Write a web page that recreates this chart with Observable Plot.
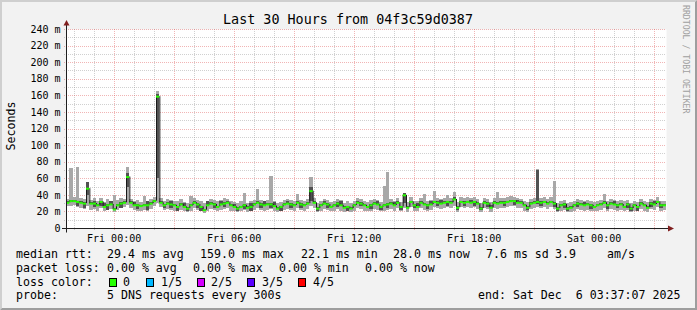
<!DOCTYPE html>
<html><head><meta charset="utf-8">
<script src="https://cdn.jsdelivr.net/npm/d3@7"></script>
<script src="https://cdn.jsdelivr.net/npm/@observablehq/plot@0.6"></script>
<style>
body{margin:0;background:#fff}
#c{position:relative;width:697px;height:310px;background:#f2f2f2;overflow:hidden}
#c svg{position:absolute;left:0;top:0}
#c text{white-space:pre}
</style></head><body><div id="c"></div>
<script>
// ---- data (ms), 10-minute steps starting Thu 21:37:07 ----
const medianMs = [
31,33,33,32,31,30,48,30,30,28,
32,26,28,29,23,28,30,31,62,31,
28,28,27,28,28,30,33,159,31,28,
30,29,28,26,29,26,24,28,31,29,
26,22.1,28,30,29,26,29,30,31,28,
26,24,26,28,25,26,29,31,29,28,
29,29,27,24,26,29,30,29,28,31,
29,28,30,45,31,24,28,30,29,26,
28,30,28,25,26,24,28,31,30,28,
26,28,30,29,26,28,29,30,28,31,
26,40,25,32,28,26,31,29,28,29,
32,31,30,31,32,31,35,25,32,31,
32,31,32,30,24,31,30,25,31,30,
31,31,32,33,33,31,31,28,25,30,
31,32,31,32,30,32,30,24,28,29,
24,25,28,30,29,28,29,28,26,28,
29,31,28,30,29,28,29,26,29,24,
28,26,30,28,25,30,29,32,28,28];
const pingMax = [
35,72,37,74,36,35,56,34,36,33,
36,31,35,33,40,34,36,35,74,35,
33,34,31,38,33,35,37,165,36,33,
35,34,33,32,35,31,30,38,36,34,
32,30,33,35,34,32,34,36,35,33,
31,30,32,42,30,32,34,47,34,33,
34,63,32,30,31,34,35,34,33,41,
34,33,35,61,36,30,33,35,34,31,
33,35,34,30,32,30,33,36,35,33,
31,34,35,34,31,51,67,35,33,36,
31,42,31,37,33,32,36,41,33,34,
45,36,35,36,40,36,43,31,37,36,
37,36,37,35,30,36,35,31,36,44,
36,36,37,38,37,36,35,33,31,35,
36,71,36,37,35,37,57,30,33,34,
30,31,33,35,34,33,34,33,31,33,
34,41,33,35,34,33,34,32,34,30,
33,31,35,33,31,35,34,37,33,33];
const pingMin = [
26,27,28,25,24,23,26,22,23,21,
24,20,22,23,19,22,24,25,28,24,
22,21,21,22,21,23,27,30,25,22,
23,22,21,20,22,20,19,21,24,22,
20,18,21,23,22,20,22,23,24,21,
20,19,20,22,19,20,22,24,22,21,
22,23,21,19,20,22,23,22,21,24,
22,21,23,26,24,19,21,23,22,20,
21,23,21,19,20,19,21,24,23,21,
20,21,23,22,20,21,22,23,21,24,
20,24,19,25,21,20,24,22,21,22,
25,24,23,24,25,24,27,19,25,24,
25,24,25,23,19,24,23,19,24,23,
24,24,25,26,26,24,24,21,19,23,
24,25,24,25,23,25,23,19,21,22,
19,19,21,23,22,21,22,21,20,21,
22,24,21,23,22,21,22,20,22,19,
21,20,23,21,19,23,22,25,21,22];
const pingLow = [
30,31,32,26,30,24,40,29,25,27,
26,25,22,28,22,27,24,30,50,30,
27,23,26,27,22,29,32,60,30,24,
29,24,27,21,28,25,20,27,30,24,
21,21,27,29,24,25,28,25,30,27,
25,20,25,23,24,21,28,30,24,27,
28,24,26,23,21,28,29,24,27,30,
24,27,29,33,30,20,27,29,24,25,
27,25,27,24,21,23,27,30,26,27,
25,23,29,28,22,27,24,29,27,30,
22,30,24,31,24,25,30,28,23,28,
31,26,29,30,27,30,34,22,31,26,
31,30,26,29,22,30,25,24,30,29,
30,26,31,32,28,30,30,27,22,29,
30,29,26,31,29,31,25,21,27,24,
21,24,27,25,28,27,28,23,25,27,
28,30,23,29,28,24,28,25,24,21,
27,21,29,27,24,25,28,31,24,27];
const pingHigh = [
32,34,34,33,32,31,56,31,33,29,
33,30,29,33,24,29,31,32,66,32,
31,29,28,29,32,31,34,162,32,29,
31,33,29,27,30,30,25,29,32,30,
27,23,32,31,30,27,33,31,32,29,
29,25,27,29,26,30,30,32,30,32,
30,30,31,25,27,30,33,30,29,32,
30,29,31,49,32,25,29,33,30,27,
29,31,32,26,27,25,29,32,31,29,
27,29,31,32,27,29,30,31,31,32,
27,42,26,33,29,30,32,30,29,33,
33,32,34,32,33,32,37,26,33,32,
33,34,33,31,25,32,31,28,32,31,
32,32,33,34,34,34,32,29,26,31,
32,70,32,33,31,33,31,25,29,30,
25,26,29,31,30,31,30,29,27,29,
30,32,29,31,33,29,30,27,30,25,
29,27,31,29,26,31,33,33,29,29];

const xLabelHours = [0, 6, 12, 18, 24];
const xLabels = ["Fri 00:00", "Fri 06:00", "Fri 12:00", "Fri 18:00", "Sat 00:00"];
const yTicks = [0, 20, 40, 60, 80, 100, 120, 140, 160, 180, 200, 220, 240];
const yTickLabels = ["0","20 m","40 m","60 m","80 m","100 m","120 m","140 m","160 m","180 m","200 m","220 m","240 m"];

const titleText = "Last 30 Hours from 04f3c59d0387";
const yAxisTitle = "Seconds";
const watermark = "RRDTOOL / TOBI OETIKER";
const rttHead = "median rtt:";
const rttStats = ["29.4 ms avg", "159.0 ms max", "22.1 ms min", "28.0 ms now", "7.6 ms sd", "3.9", "am/s"];
const lossHead = "packet loss:";
const lossStats = ["0.00 % avg", "0.00 % max", "0.00 % min", "0.00 % now"];
const colorHead = "loss color:";
const lossLabels = ["0", "1/5", "2/5", "3/5", "4/5"];
const lossColors = ["#26ff00", "#00b8ff", "#d400ff", "#5a00ff", "#ff0000"];
const probeHead = "probe:";
const probeText = "5 DNS requests every 300s";
const endText = "end: Sat Dec  6 03:37:07 2025";

// ---- time axis (hours relative to Fri 00:00) ----
const xStart = -(2 + 22/60 + 53/3600);   // Thu 21:37:07
const xEnd = xStart + 30;                // Sat 03:37:07
const step = 1/6;

const rows = medianMs.map((m, i) => ({
  t0: xStart + i*step, t1: xStart + (i+1)*step, m,
  p1: pingMin[i], p2: pingLow[i], p4: pingHigh[i], p5: pingMax[i]
}));
const conn = rows.slice(1).map((r, i) => ({x: r.t0, a: rows[i].m, b: r.m}));

const minorHours = d3.range(Math.ceil(xStart), xEnd).filter(h => h % 3 !== 0);
const majorHours = d3.range(Math.ceil(xStart), xEnd).filter(h => h % 3 === 0);
const minorY = d3.range(10, 240, 20);
const majorY = d3.range(20, 241, 20);

const FONT = "DejaVu Sans Mono";
const gridC = "rgba(143,143,143,0.42)";
const mgridC = "rgba(222,79,79,0.42)";

function axisLines(index, scales, values, dims) {
  const {width, height, marginLeft: ml, marginRight: mr, marginTop: mt, marginBottom: mb} = dims;
  const x0 = ml + 0.5, y0 = height - mb + 0.5, xr = width - mr;
  const g = d3.create("svg:g");
  g.append("line").attr("x1", ml - 4).attr("x2", xr + 3).attr("y1", y0).attr("y2", y0).attr("stroke", "#1f1f1f");
  g.append("line").attr("x1", x0).attr("x2", x0).attr("y1", y0 + 4).attr("y2", mt - 4).attr("stroke", "#1f1f1f");
  g.append("path").attr("d", `M${x0-3},${mt-3.5}L${x0+3},${mt-3.5}L${x0},${mt-9}Z`).attr("fill", "#801f1f");
  g.append("path").attr("d", `M${xr+2},${y0-3}L${xr+2},${y0+3}L${xr+8},${y0}Z`).attr("fill", "#801f1f");
  return g.node();
}

const chart = Plot.plot({
  width: 697, height: 310,
  marginLeft: 66, marginRight: 31, marginTop: 29, marginBottom: 82,
  x: {domain: [xStart, xEnd], label: null},
  y: {domain: [0, 240], label: null},
  style: {background: "transparent", fontFamily: FONT, fontSize: "10px", color: "#000", overflow: "visible"},
  marks: [
    Plot.frame({fill: "#fff", stroke: "none"}),
    Plot.ruleX(minorHours, {stroke: gridC, strokeDasharray: "1,1", insetBottom: -2, shapeRendering: "crispEdges"}),
    Plot.ruleY(minorY, {stroke: gridC, strokeDasharray: "1,1", insetLeft: -2, shapeRendering: "crispEdges"}),
    Plot.ruleX(majorHours, {stroke: mgridC, strokeDasharray: "1,1", insetBottom: -2, shapeRendering: "crispEdges"}),
    Plot.ruleY(majorY, {stroke: mgridC, strokeDasharray: "1,1", insetLeft: -2, shapeRendering: "crispEdges"}),
    Plot.rect(rows, {x1: "t0", x2: "t1", y1: "p1", y2: "p5", fill: "#a8a8a8", shapeRendering: "crispEdges"}),
    Plot.rect(rows, {x1: "t0", x2: "t1", y1: "p2", y2: "p4", fill: "#525252", shapeRendering: "crispEdges"}),
    Plot.ruleX(conn, {x: "x", y1: "a", y2: "b", stroke: "#1a1a1a", strokeWidth: 1}),
    Plot.ruleY(rows, {y: "m", x1: "t0", x2: "t1", stroke: lossColors[0], strokeWidth: 2}),
    Plot.axisY({ticks: yTicks, tickSize: 0, tickPadding: 6, label: null, fill: "#000",
      tickFormat: d => yTickLabels[yTicks.indexOf(d)]}),
    Plot.axisX({ticks: xLabelHours, tickSize: 0, tickPadding: 6, label: null, fill: "#000",
      tickFormat: d => xLabels[xLabelHours.indexOf(d)]}),
    axisLines
  ]
});
const c = document.getElementById("c");
c.appendChild(chart);

// ---- overlay: frame, title, labels, legend ----
const W = 697, H = 310;
const ov = d3.select(c).append("svg").attr("width", W).attr("height", H)
  .style("font-family", FONT);
ov.append("path").attr("fill", "#cfcfcf").attr("d", `M0,0H${W}L${W-2},2H2V${H-2}L0,${H}Z`);
ov.append("path").attr("fill", "#9e9e9e").attr("d", `M${W},0V${H}H0L2,${H-2}H${W-2}V2Z`);

ov.append("text").attr("x", 348).attr("y", 24).attr("text-anchor", "middle")
  .attr("font-size", 13.4).text(titleText);
ov.append("text").attr("transform", "translate(15,126) rotate(-90)").attr("text-anchor", "middle")
  .attr("font-size", 11.6).text(yAxisTitle);
ov.append("text").attr("transform", "translate(683,5) rotate(90)").attr("font-size", 8.2)
  .attr("fill", "#a0a0a0").text(watermark);

const rowY = [258.3, 272, 285.8, 299.3];
const fs = 11.6;
const put = (x, y, t) => ov.append("text").attr("x", x).attr("y", y).attr("font-size", fs)
  .attr("xml:space", "preserve").style("white-space", "pre").text(t);
put(16, rowY[0], rttHead);
[107, 200, 301, 393, 486, 555, 607].forEach((x, i) => put(x, rowY[0], rttStats[i]));
put(16, rowY[1], lossHead);
[107, 193, 279, 365].forEach((x, i) => put(x, rowY[1], lossStats[i]));
put(16, rowY[2], colorHead);
[109, 146, 197, 247, 298].forEach((x, i) => {
  ov.append("rect").attr("x", x + 0.5).attr("y", 278.5).attr("width", 7).attr("height", 8)
    .attr("fill", lossColors[i]).attr("stroke", "#000");
});
[123, 161, 211, 262, 313].forEach((x, i) => put(x, rowY[2], lossLabels[i]));
put(16, rowY[3], probeHead);
put(107, rowY[3], probeText);
put(478, rowY[3], endText);
</script></body></html>
